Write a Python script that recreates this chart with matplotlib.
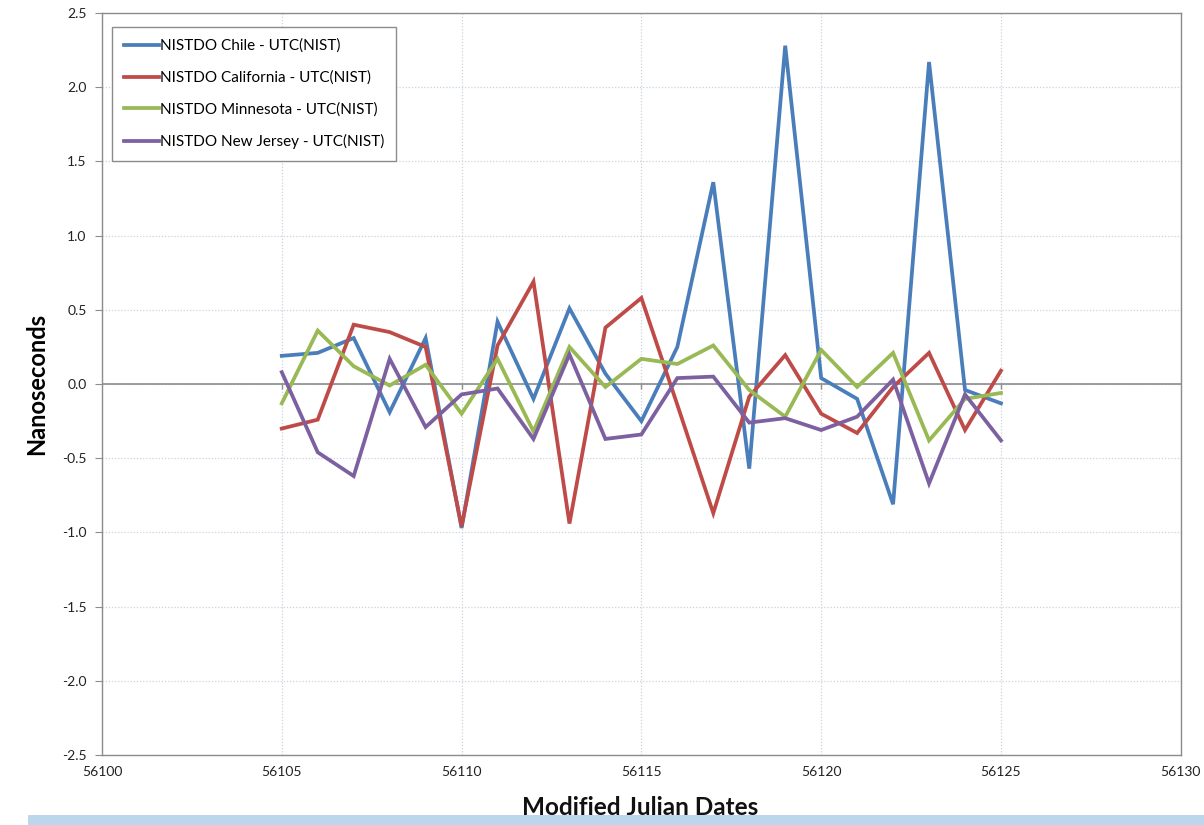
import matplotlib
matplotlib.use('Agg')
import matplotlib.pyplot as plt
from matplotlib.patches import Rectangle
from matplotlib.ticker import FormatStrFormatter

plt.rcParams['font.family'] = ['Lato', 'DejaVu Sans']

# data (ns offsets vs MJD)
mjd = list(range(56105, 56126))
chile = [0.19, 0.21, 0.31, -0.19, 0.31, -0.97, 0.42, -0.10, 0.51, 0.07, -0.25,
         0.25, 1.36, -0.57, 2.28, 0.04, -0.10, -0.81, 2.17, -0.04, -0.13]
california = [-0.30, -0.24, 0.40, 0.35, 0.25, -0.96, 0.26, 0.69, -0.94, 0.38, 0.58,
              -0.14, -0.87, -0.085, 0.195, -0.20, -0.33, -0.02, 0.21, -0.31, 0.09]
minnesota = [-0.13, 0.36, 0.12, -0.01, 0.13, -0.20, 0.17, -0.32, 0.25, -0.02, 0.17,
             0.135, 0.26, -0.04, -0.22, 0.23, -0.02, 0.21, -0.38, -0.10, -0.06]
new_jersey = [0.08, -0.46, -0.62, 0.17, -0.29, -0.07, -0.03, -0.37, 0.20, -0.37, -0.34,
              0.04, 0.05, -0.26, -0.23, -0.31, -0.22, 0.03, -0.67, -0.07, -0.38]

labels = ['NISTDO Chile - UTC(NIST)', 'NISTDO California - UTC(NIST)',
          'NISTDO Minnesota - UTC(NIST)', 'NISTDO New Jersey - UTC(NIST)']
colors = ['#4a7ebb', '#be4b48', '#98b954', '#7d60a0']
xticks = list(range(56100, 56131, 5))

fig = plt.figure(figsize=(12.04, 8.25), dpi=100)
fig.patch.set_facecolor('white')

ax = fig.add_axes([0.0847, 0.0848, 0.896, 0.8994])

for ys, lab, c in zip([chile, california, minnesota, new_jersey], labels, colors):
    ax.plot(mjd, ys, color=c, lw=2.7, label=lab, solid_joinstyle='miter', zorder=3)

# excel-style horizontal axis through zero, with its little tick marks
ax.axhline(0, color='#8c8c8c', lw=1.2, zorder=2)
ax.vlines(xticks[1:-1], -0.035, 0, color='#8c8c8c', lw=1.0, zorder=2)

ax.set_xlim(56100, 56130)
ax.set_ylim(-2.5, 2.5)
ax.set_xticks(xticks)
ax.set_yticks([i * 0.5 for i in range(-5, 6)])
ax.yaxis.set_major_formatter(FormatStrFormatter('%.1f'))
ax.grid(True, color='#c9d3dc', lw=0.9, ls=(0, (1, 1.5)), zorder=1)

for s in ax.spines.values():
    s.set_color('#8c8c8c')
    s.set_linewidth(1.0)

ax.tick_params(axis='y', direction='out', length=5, color='#8c8c8c', labelsize=10,
               labelcolor='#222222', pad=6)
ax.tick_params(axis='x', length=0, labelsize=10, labelcolor='#222222', pad=8)

ax.set_ylabel('Nanoseconds', fontsize=17, fontweight='bold', labelpad=10)
fig.text(0.532, 0.012, 'Modified Julian Dates', ha='center', va='baseline',
         fontsize=17.5, fontweight='bold', color='#111111')

# light blue strip along the bottom edge, drawn over the label's foot
fig.patches.append(Rectangle((0.023, 0.0), 0.977, 0.012, transform=fig.transFigure,
                             facecolor='#bcd6ee', edgecolor='none', zorder=5))

leg = ax.legend(loc='upper left', bbox_to_anchor=(0.0095, 0.981), fontsize=11,
                handlelength=2.3, handletextpad=0.1, labelspacing=1.15,
                borderpad=0.75, borderaxespad=0, fancybox=False, framealpha=1)
leg.get_frame().set_edgecolor('#8c8c8c')
leg.get_frame().set_linewidth(1.0)

fig.savefig('out.png', dpi=100)
